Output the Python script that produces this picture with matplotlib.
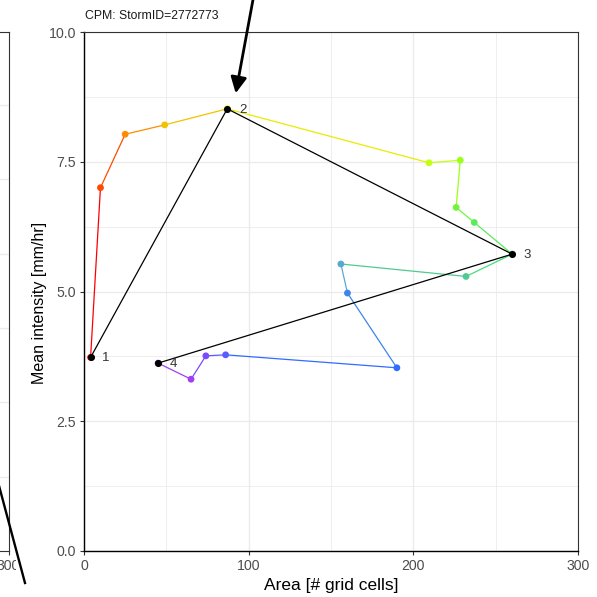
import matplotlib
matplotlib.use("Agg")
import matplotlib.pyplot as plt
from matplotlib.lines import Line2D
from matplotlib.patches import Rectangle
from matplotlib.ticker import MultipleLocator

plt.rcParams['font.family'] = ['Liberation Sans', 'DejaVu Sans']

# storm track: area vs mean intensity at each time step
area = [4, 10, 25, 49, 87, 209.5, 228.5, 226, 237, 260,
        232, 156, 160, 190, 86, 74, 65, 45]
intensity = [3.73, 7.0, 8.03, 8.21, 8.52, 7.48, 7.53, 6.62, 6.33, 5.72,
             5.29, 5.53, 4.97, 3.53, 3.78, 3.76, 3.31, 3.62]
step_colours = ['#FF0000', '#FF4A00', '#FF8C00', '#F2C200', '#E8EC00',
                '#C4FF10', '#9BFF1A', '#6EF53C', '#5AEB5A', '#45E07A',
                '#4FCB8F', '#5AAAD0', '#3D85E8', '#2F6CFF', '#5A5CFF',
                '#7A4BFF', '#A040F0', '#B040E0']
# key steps joined by the black line
key_steps = [0, 4, 9, 17]
key_labels = ['1', '2', '3', '4']

W = H = 597
fig = plt.figure(figsize=(W / 100, H / 100), dpi=100)

ax = fig.add_axes([84 / W, 1 - 551 / H, 494 / W, 519 / H])
ax.set_xlim(0, 300)
ax.set_ylim(0, 10)
ax.xaxis.set_major_locator(MultipleLocator(100))
ax.xaxis.set_minor_locator(MultipleLocator(50))
ax.yaxis.set_major_locator(MultipleLocator(2.5))
ax.yaxis.set_minor_locator(MultipleLocator(1.25))
ax.set_yticks([0, 2.5, 5, 7.5, 10])
ax.set_yticklabels(['0.0', '2.5', '5.0', '7.5', '10.0'])
ax.grid(which='major', color='#EBEBEB', lw=1.0, zorder=0)
ax.grid(which='minor', color='#EBEBEB', lw=0.6, zorder=0)
ax.set_axisbelow(True)
ax.tick_params(which='major', length=3, width=0.8, color='#333333',
               labelsize=10.2, labelcolor='#4D4D4D', pad=2.5)
ax.tick_params(which='minor', length=0)
for side in ['top', 'right']:
    ax.spines[side].set_color('#333333')
    ax.spines[side].set_linewidth(0.8)
for side in ['left', 'bottom']:
    ax.spines[side].set_color('black')
    ax.spines[side].set_linewidth(1.0)

# coloured track, segment by segment
for i in range(len(area) - 1):
    ax.plot(area[i:i + 2], intensity[i:i + 2], color=step_colours[i],
            lw=0.9, zorder=2)
ax.scatter(area, intensity, c=step_colours, s=24, zorder=3, linewidths=0)

# black line through the key steps
kx = [area[i] for i in key_steps]
ky = [intensity[i] for i in key_steps]
ax.plot(kx, ky, color='black', lw=0.9, zorder=4)
ax.scatter(kx, ky, color='black', s=26, zorder=5, linewidths=0)
for x, y, lab in zip(kx, ky, key_labels):
    ax.annotate(lab, (x, y), xytext=(11, -0.5), textcoords='offset points',
                ha='center', va='center', fontsize=9.5, color='#333333',
                zorder=6)

ax.set_xlabel('Area [# grid cells]', fontsize=12.5)
ax.set_ylabel('Mean intensity [mm/hr]', fontsize=11.5)
ax.xaxis.set_label_coords(0.5, -0.052)
ax.yaxis.set_label_coords(-0.074, 0.478)
fig.text(85 / W, 1 - 16 / H, 'CPM: StormID=2772773', fontsize=8.8,
         ha='left', va='center', color='#1A1A1A')

# neighbouring panel, cut off at the left edge
axl = fig.add_axes([-0.2, 1 - 551 / H, 0.2 + 8.5 / W, 519 / H])
axl.set_xlim(0, 300)
axl.set_ylim(0, 6.98)
axl.set_xticks([300])
axl.set_xticklabels(['300'])
axl.set_yticks([1, 2, 3, 4, 5, 6])
axl.set_yticklabels([])
axl.tick_params(axis='y', length=0)
axl.tick_params(axis='x', length=3, width=0.8, color='#333333',
                labelsize=10.2, labelcolor='#4D4D4D', pad=2.5)
axl.grid(axis='y', color='#EBEBEB', lw=1.0)
for s in axl.spines.values():
    s.set_color('#333333')
    s.set_linewidth(0.8)

fig.add_artist(Rectangle((16 / W, 0), 42 / W, 44 / H, transform=fig.transFigure,
                         facecolor='white', edgecolor='none', zorder=1))
fig.add_artist(Line2D([-2 / W, 25 / W], [1 - 482 / H, 1 - 583 / H],
                      transform=fig.transFigure, color='black', lw=1.7,
                      zorder=2))

# arrow pointing at step 2
ax.annotate('', xy=(235.7 / W, 1 - 93.3 / H), xycoords='figure fraction',
            xytext=(253.5 / W, 1 + 3 / H), textcoords='figure fraction',
            arrowprops=dict(arrowstyle='-|>', lw=2.0, color='black',
                            mutation_scale=24, shrinkA=0, shrinkB=0),
            annotation_clip=False, zorder=7)

fig.savefig('out.png', dpi=100)
